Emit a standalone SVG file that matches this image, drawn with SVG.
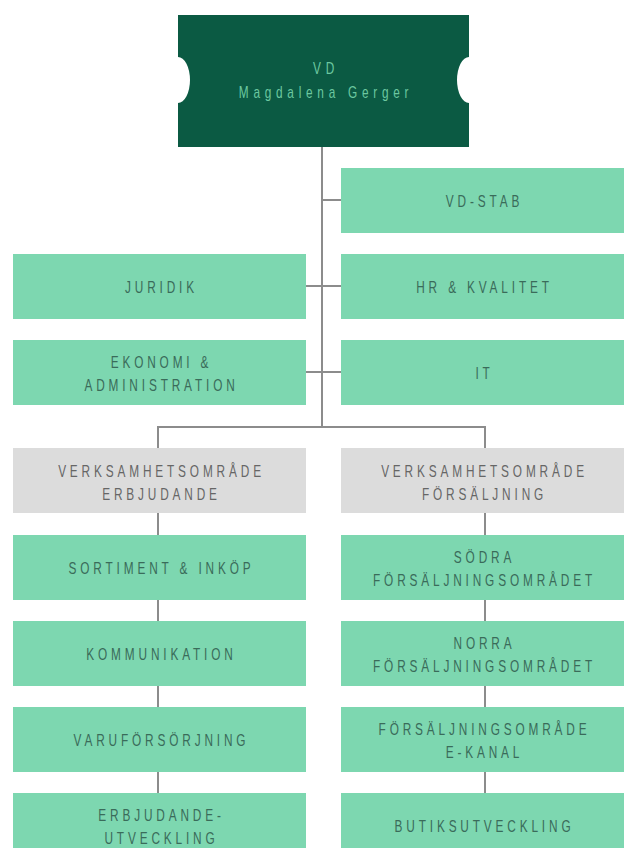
<svg xmlns="http://www.w3.org/2000/svg" width="627" height="848" viewBox="0 0 627 848">
<style>
.g{fill:#7dd7b0}
.gr{fill:#dcdcdc}
.t{font-family:"Liberation Sans",Arial,sans-serif;font-size:16px;letter-spacing:5.2px;text-anchor:middle;fill:#3a6b5a}
.tg{fill:#666666}
.tv{fill:#6cc8a0;letter-spacing:6.4px}
.c{stroke:#8c8c8c;stroke-width:2;fill:none}
</style>
<rect width="627" height="848" fill="#ffffff"/>
<g id="connectors">
<path class="c" d="M322,147 V427 M322,200 H341 M306,286 H341 M306,372 H341 M158,427 H485 M158,426 V448 M485,426 V448"/>
<path class="c" d="M158,513 V535 M158,600 V621 M158,686 V707 M158,772 V793 M485,513 V535 M485,600 V621 M485,686 V707 M485,772 V793"/>
</g>
<g id="vd">
<path fill="#0b5a43" d="M178,15 H469 V57 A12 23 0 0 0 469,103 V147 H178 V103 A12 23 0 0 0 178,57 Z"/>
<text class="t tv" transform="translate(326 0) scale(0.74 1)" y="74">VD</text>
<text class="t tv" transform="translate(326 0) scale(0.74 1)" y="98">Magdalena Gerger</text>
</g>
<g id="vd-stab">
<rect class="g" x="341" y="168" width="283" height="65"/>
<text class="t" transform="translate(484.5 0) scale(0.74 1)" y="207">VD-STAB</text>
</g>
<g id="juridik">
<rect class="g" x="13" y="254" width="293" height="65"/>
<text class="t" transform="translate(161.5 0) scale(0.74 1)" y="293">JURIDIK</text>
</g>
<g id="hr">
<rect class="g" x="341" y="254" width="283" height="65"/>
<text class="t" transform="translate(484.5 0) scale(0.74 1)" y="293">HR &amp; KVALITET</text>
</g>
<g id="ekonomi">
<rect class="g" x="13" y="340" width="293" height="65"/>
<text class="t" transform="translate(161.5 0) scale(0.74 1)" y="368">EKONOMI &amp;</text>
<text class="t" transform="translate(161.5 0) scale(0.74 1)" y="391">ADMINISTRATION</text>
</g>
<g id="it">
<rect class="g" x="341" y="340" width="283" height="65"/>
<text class="t" transform="translate(484.5 0) scale(0.74 1)" y="379">IT</text>
</g>
<g id="va-erbjudande">
<rect class="gr" x="13" y="448" width="293" height="65"/>
<text class="t tg" transform="translate(161.5 0) scale(0.74 1)" y="477">VERKSAMHETSOMRÅDE</text>
<text class="t tg" transform="translate(161.5 0) scale(0.74 1)" y="500">ERBJUDANDE</text>
</g>
<g id="va-forsaljning">
<rect class="gr" x="341" y="448" width="283" height="65"/>
<text class="t tg" transform="translate(484.5 0) scale(0.74 1)" y="477">VERKSAMHETSOMRÅDE</text>
<text class="t tg" transform="translate(484.5 0) scale(0.74 1)" y="500">FÖRSÄLJNING</text>
</g>
<g id="sortiment">
<rect class="g" x="13" y="535" width="293" height="65"/>
<text class="t" transform="translate(161.5 0) scale(0.74 1)" y="574">SORTIMENT &amp; INKÖP</text>
</g>
<g id="sodra">
<rect class="g" x="341" y="535" width="283" height="65"/>
<text class="t" transform="translate(484.5 0) scale(0.74 1)" y="563">SÖDRA</text>
<text class="t" transform="translate(484.5 0) scale(0.74 1)" y="586">FÖRSÄLJNINGSOMRÅDET</text>
</g>
<g id="kommunikation">
<rect class="g" x="13" y="621" width="293" height="65"/>
<text class="t" transform="translate(161.5 0) scale(0.74 1)" y="660">KOMMUNIKATION</text>
</g>
<g id="norra">
<rect class="g" x="341" y="621" width="283" height="65"/>
<text class="t" transform="translate(484.5 0) scale(0.74 1)" y="649">NORRA</text>
<text class="t" transform="translate(484.5 0) scale(0.74 1)" y="672">FÖRSÄLJNINGSOMRÅDET</text>
</g>
<g id="varuforsorjning">
<rect class="g" x="13" y="707" width="293" height="65"/>
<text class="t" transform="translate(161.5 0) scale(0.74 1)" y="746">VARUFÖRSÖRJNING</text>
</g>
<g id="ekanal">
<rect class="g" x="341" y="707" width="283" height="65"/>
<text class="t" transform="translate(484.5 0) scale(0.74 1)" y="735">FÖRSÄLJNINGSOMRÅDE</text>
<text class="t" transform="translate(484.5 0) scale(0.74 1)" y="758">E-KANAL</text>
</g>
<g id="erbjudandeutveckling">
<rect class="g" x="13" y="793" width="293" height="65"/>
<text class="t" transform="translate(161.5 0) scale(0.74 1)" y="821">ERBJUDANDE-</text>
<text class="t" transform="translate(161.5 0) scale(0.74 1)" y="844">UTVECKLING</text>
</g>
<g id="butiksutveckling">
<rect class="g" x="341" y="793" width="283" height="65"/>
<text class="t" transform="translate(484.5 0) scale(0.74 1)" y="832">BUTIKSUTVECKLING</text>
</g>
</svg>
